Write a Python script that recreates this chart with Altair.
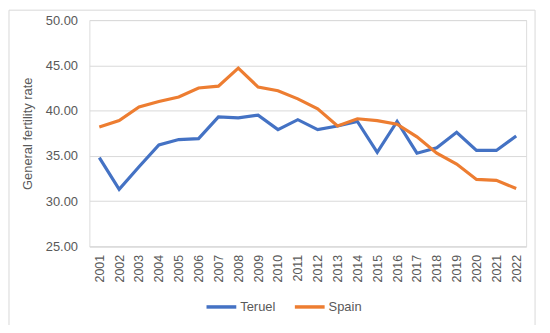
import altair as alt
import pandas as pd

years = [str(y) for y in range(2001, 2023)]
teruel = [34.8, 31.3, 33.8, 36.2, 36.8, 36.9, 39.3, 39.2, 39.5, 37.9, 39.0,
          37.9, 38.3, 38.8, 35.4, 38.8, 35.3, 35.9, 37.6, 35.6, 35.6, 37.2]
spain = [38.2, 38.9, 40.4, 41.0, 41.5, 42.5, 42.7, 44.7, 42.6, 42.2, 41.3,
         40.2, 38.3, 39.1, 38.9, 38.5, 37.1, 35.3, 34.1, 32.4, 32.3, 31.4]
series = ["Teruel", "Spain"]
colors = ["#4472C4", "#ED7D31"]

rows = []
for i, y in enumerate(years):
    rows.append({"year": y, "series": "Teruel", "value": teruel[i]})
    rows.append({"year": y, "series": "Spain", "value": spain[i]})
df = pd.DataFrame(rows)

font = "Liberation Sans"
gray = "#595959"

lines = alt.Chart(df).mark_line(strokeWidth=3.2, strokeJoin="miter").encode(
    x=alt.X("year:O", scale=alt.Scale(type="point", padding=0.5),
            axis=alt.Axis(title=None, labelAngle=270, labelPadding=8, ticks=False,
                          domain=True, domainColor="#d9d9d9", labelColor=gray,
                          labelFontSize=12.5, labelFont=font, labelBaseline="middle")),
    y=alt.Y("value:Q", scale=alt.Scale(domain=[25, 50], nice=False, zero=False),
            axis=alt.Axis(title="General fertility rate", values=[25, 30, 35, 40, 45, 50],
                          format=".2f", ticks=False, domain=False, gridColor="#d9d9d9",
                          labelColor=gray, labelFontSize=13, labelFont=font,
                          labelPadding=12, titleColor=gray, titleFontSize=13,
                          titleFont=font, titleFontWeight="normal", titlePadding=11)),
    color=alt.Color("series:N", scale=alt.Scale(domain=series, range=colors),
                    sort=series,
                    legend=alt.Legend(title=None, orient="none", legendX=116, legendY=272,
                                      direction="horizontal", symbolType="stroke",
                                      symbolSize=900, symbolStrokeWidth=3.5,
                                      labelFont=font, labelFontSize=13, labelColor=gray,
                                      columnPadding=12, labelOffset=2)),
)

frame = alt.Chart(pd.DataFrame({"a": [0]})).mark_rect(
    filled=False, stroke="#d9d9d9", strokeWidth=1, clip=False
).encode(x=alt.value(-81), x2=alt.value(449), y=alt.value(-10), y2=alt.value(309))

chart = alt.layer(frame, lines).properties(
    width=440, height=228,
    autosize=alt.AutoSizeParams(type="none"),
    padding={"left": 82, "top": 11, "right": 16, "bottom": 78},
).configure_view(stroke=None).configure(background="white")

chart.save("out.html", embed_options={"renderer": "svg", "actions": False})
